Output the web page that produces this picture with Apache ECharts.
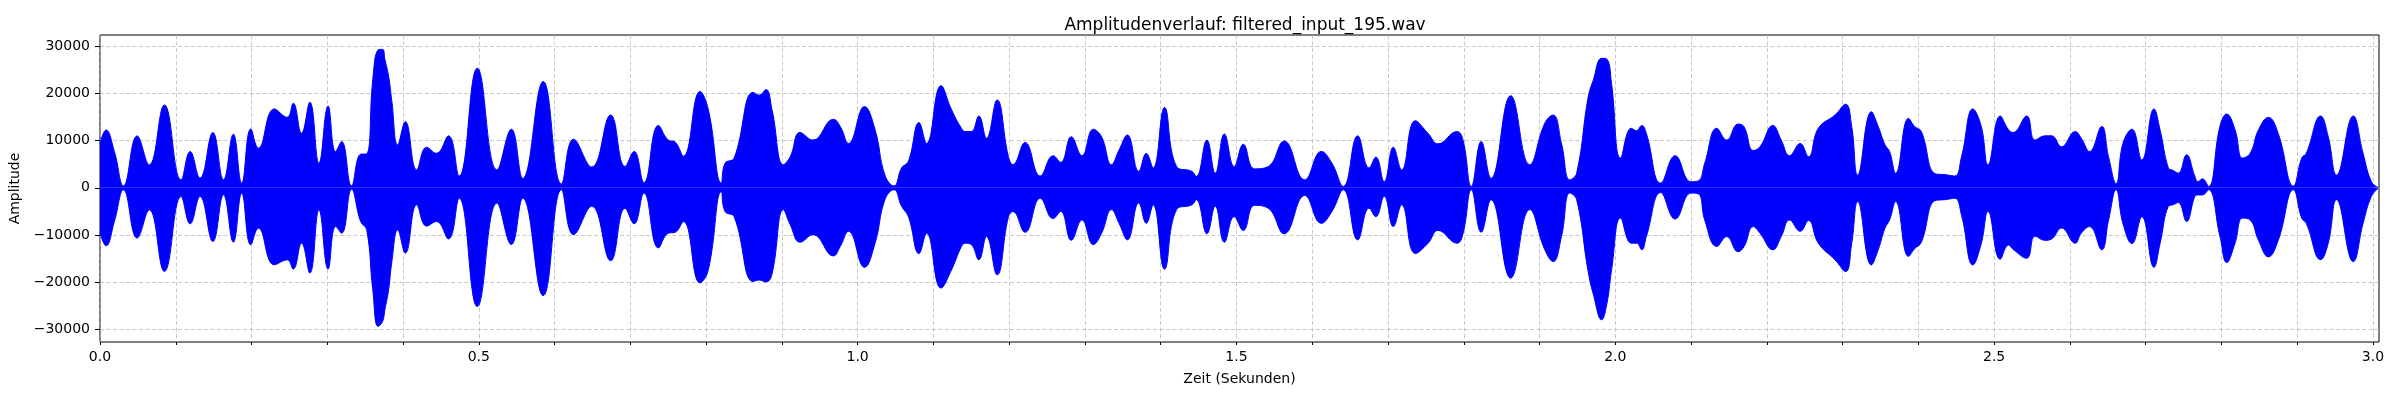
<!DOCTYPE html>
<html>
<head>
<meta charset="utf-8">
<script src="https://cdn.jsdelivr.net/npm/echarts@6/dist/echarts.min.js"></script>
<style>
html, body { margin: 0; padding: 0; background: #fff; }
#chart { width: 2400px; height: 400px; }
</style>
</head>
<body>
<div id="chart"></div>
<script>
// envelope of the waveform (seconds / upper / lower)
var times = [
    0.000, 0.008, 0.019, 0.031, 0.049, 0.065, 0.085, 0.107, 0.119, 0.132,
    0.149, 0.163, 0.176, 0.187, 0.199, 0.209, 0.230, 0.247, 0.255, 0.266,
    0.277, 0.289, 0.301, 0.311, 0.319, 0.332, 0.344, 0.352, 0.360, 0.367,
    0.373, 0.376, 0.381, 0.385, 0.393, 0.403, 0.418, 0.431, 0.444, 0.460,
    0.474, 0.498, 0.524, 0.543, 0.558, 0.585, 0.609, 0.625, 0.649, 0.674,
    0.693, 0.705, 0.718, 0.737, 0.750, 0.759, 0.770, 0.792, 0.803, 0.820,
    0.825, 0.837, 0.862, 0.870, 0.879, 0.887, 0.902, 0.911, 0.924, 0.941,
    0.968, 0.977, 0.988, 1.009, 1.023, 1.036, 1.048, 1.058, 1.067, 1.081,
    1.091, 1.110, 1.124, 1.137, 1.142, 1.150, 1.160, 1.170, 1.184, 1.199,
    1.205, 1.221, 1.241, 1.258, 1.268, 1.282, 1.296, 1.311, 1.322, 1.335,
    1.345, 1.356, 1.371, 1.381, 1.390, 1.405, 1.421, 1.441, 1.447, 1.461,
    1.472, 1.484, 1.497, 1.509, 1.524, 1.542, 1.563, 1.590, 1.612, 1.626,
    1.641, 1.660, 1.675, 1.684, 1.695, 1.707, 1.718, 1.736, 1.753, 1.766,
    1.791, 1.799, 1.810, 1.823, 1.836, 1.862, 1.887, 1.907, 1.918, 1.929,
    1.940, 1.949, 1.964, 1.971, 1.982, 1.989, 1.995, 2.007, 2.021, 2.028,
    2.035, 2.041, 2.060, 2.079, 2.100, 2.110, 2.118, 2.134, 2.147, 2.162,
    2.170, 2.182, 2.191, 2.208, 2.219, 2.230, 2.244, 2.255, 2.268, 2.290,
    2.304, 2.312, 2.320, 2.338, 2.347, 2.356, 2.362, 2.370, 2.387, 2.395,
    2.404, 2.422, 2.435, 2.448, 2.457, 2.472, 2.483, 2.492, 2.508, 2.519,
    2.525, 2.543, 2.554, 2.567, 2.576, 2.589, 2.607, 2.615, 2.626, 2.642,
    2.651, 2.661, 2.670, 2.682, 2.695, 2.711, 2.719, 2.730, 2.736, 2.743,
    2.754, 2.765, 2.769, 2.775, 2.783, 2.798, 2.807, 2.818, 2.828, 2.838,
    2.849, 2.862, 2.875, 2.895, 2.906, 2.912, 2.931, 2.941, 2.952, 2.974,
    2.987, 2.998, 3.007
];
var upper = [
    9440, 12250, 7680, 420, 10990, 4860, 17530, 1690, 7680, 2040,
    11690, 1690, 11340, 990, 12460, 8380, 16690, 14930, 17890, 11550,
    18100, 5210, 17320, 7680, 9790, 420, 7110, 7180, 22820, 29150,
    29290, 27180, 23500, 18600, 9100, 14000, 3800, 8600, 7300, 11000,
    2500, 25300, 3800, 12400, 2000, 22500, 850, 10300, 4400, 15400,
    4500, 7700, 1100, 13200, 10100, 9700, 6700, 20400, 16500, 1000,
    5200, 6300, 20200, 19600, 20800, 16500, 4900, 6600, 11700, 10100,
    14500, 13000, 9400, 17200, 12300, 2700, 400, 4200, 5600, 13800,
    9400, 21600, 16500, 12600, 11900, 11900, 15200, 10500, 18600, 6600,
    4900, 9600, 2500, 6800, 5400, 10800, 6800, 12400, 10800, 4900,
    8000, 11200, 3500, 7300, 4200, 17000, 4500, 3500, 2400, 10100,
    3100, 11400, 4500, 9200, 4000, 4500, 9900, 1700, 7700, 5200,
    300, 11000, 4200, 6500, 1300, 8600, 3800, 14200, 11500, 9300,
    11900, 10100, 300, 9800, 2000, 19500, 4900, 13700, 15400, 9400,
    1700, 3100, 19000, 22800, 27400, 27200, 22100, 6300, 12600, 12100,
    13200, 11500, 1000, 6800, 1300, 1500, 5200, 12600, 10100, 13500,
    12900, 7900, 8700, 13200, 10100, 6800, 9400, 6600, 12600, 15400,
    17700, 13000, 2700, 16100, 13000, 9100, 7700, 3100, 14700, 13000,
    11900, 3000, 2800, 2500, 6600, 16700, 13000, 4900, 15200, 12300,
    11700, 15200, 10100, 11000, 11000, 8700, 11900, 10500, 7700, 13000,
    6600, 900, 9400, 12400, 5900, 16700, 12300, 4200, 3700, 3100,
    7000, 2400, 1300, 1900, 300, 13000, 15600, 12300, 6300, 7300,
    12300, 14900, 11500, 400, 6300, 7300, 15200, 10800, 2700, 15200,
    7300, 1300, 100
];
var lower = [
    -9580, -12250, -7110, -420, -10630, -4650, -17680, -1830, -7610, -1830,
    -11340, -1480, -11480, -1130, -12040, -8520, -16270, -15210, -17180, -11690,
    -18030, -4650, -17180, -8170, -9580, -280, -7110, -8870, -21550, -29290,
    -28240, -25770, -21500, -15900, -8900, -13800, -3600, -8100, -7100, -10800,
    -2200, -25100, -3200, -12000, -2200, -22800, -400, -9900, -3900, -15400,
    -4300, -7600, -1100, -12700, -9600, -9400, -7100, -20100, -17300, -800,
    -5000, -6100, -19800, -19500, -19900, -18200, -4600, -7800, -11500, -9900,
    -14400, -12400, -9200, -16800, -11700, -2500, -400, -3900, -6100, -13900,
    -9600, -21200, -17300, -12400, -11700, -12000, -15200, -10300, -18400, -6100,
    -5000, -9400, -2200, -6500, -5000, -11100, -6800, -12000, -9600, -4600,
    -7500, -11000, -3200, -7500, -3600, -17200, -4600, -3600, -2500, -9700,
    -3900, -11500, -6100, -9000, -3700, -4300, -9700, -1600, -7500, -5000,
    -400, -11000, -4300, -6100, -1800, -8200, -3600, -13900, -11700, -9000,
    -11700, -9700, -400, -9400, -2500, -19100, -4600, -13100, -15600, -10300,
    -1100, -2500, -17500, -22500, -27900, -24400, -17500, -6400, -11700, -11700,
    -13100, -10300, -1000, -6600, -1100, -1300, -6800, -12400, -10300, -13500,
    -12400, -8200, -9600, -13100, -10300, -6800, -9200, -6900, -11700, -15200,
    -17700, -11800, -2900, -16300, -13100, -8500, -6800, -2900, -14500, -12900,
    -11500, -2700, -2500, -2200, -5800, -16300, -11800, -5000, -15100, -12100,
    -13000, -14900, -10200, -11100, -10800, -8500, -11700, -9600, -8200, -13100,
    -6900, -400, -7500, -11800, -6100, -16800, -11800, -3900, -3600, -3100,
    -7100, -1800, -1500, -1500, -400, -10200, -15800, -11700, -6400, -6800,
    -11100, -14600, -11100, -400, -6400, -7500, -15200, -11700, -2500, -15600,
    -7500, -1800, -100
];

// tick positions
var xMajorTicks = [0, 0.5, 1.0, 1.5, 2.0, 2.5, 3.0];
var xMinorTicks = [0, 0.1, 0.2, 0.3, 0.4, 0.5, 0.6, 0.7, 0.8, 0.9, 1.0,
    1.1, 1.2, 1.3, 1.4, 1.5, 1.6, 1.7, 1.8, 1.9, 2.0,
    2.1, 2.2, 2.3, 2.4, 2.5, 2.6, 2.7, 2.8, 2.9, 3.0];
var yTicks = [-30000, -20000, -10000, 0, 10000, 20000, 30000];

var font = 'DejaVu Sans';
var gridLine = { color: '#b0b0b0', opacity: 0.7, width: 1, type: [4, 2.5] };

var chart = echarts.init(document.getElementById('chart'));

var upperData = times.map(function (t, i) { return [t, upper[i]]; });
var lowerData = times.map(function (t, i) { return [t, lower[i]]; });

function bandSeries(name, data) {
    return {
        name: name,
        type: 'line',
        data: data,
        xAxisIndex: 0,
        yAxisIndex: 0,
        symbol: 'none',
        smooth: 0.45,
        animation: false,
        lineStyle: { color: '#0000ff', width: 1 },
        areaStyle: { color: '#0000ff', opacity: 1, origin: 'auto' },
        z: 3
    };
}

var option = {
    animation: false,
    backgroundColor: '#fff',
    title: {
        text: 'Amplitudenverlauf: filtered_input_195.wav',
        left: 1240,
        top: 12,
        textAlign: 'center',
        textStyle: { fontFamily: font, fontSize: 17, fontWeight: 'normal', color: '#000' }
    },
    grid: {
        left: 100, right: 21, top: 35, bottom: 58,
        show: true, borderColor: '#000', borderWidth: 1,
        backgroundColor: 'transparent'
    },
    xAxis: [{
        type: 'value',
        min: 0,
        max: 3.008,
        position: 'bottom',
        name: 'Zeit (Sekunden)',
        nameLocation: 'middle',
        nameGap: 30,
        nameTextStyle: { fontFamily: font, fontSize: 14, color: '#000' },
        axisLine: { show: false },
        axisTick: { show: true, customValues: xMajorTicks, length: 5, lineStyle: { color: '#000' } },
        axisLabel: {
            customValues: xMajorTicks,
            margin: 8,
            fontFamily: font, fontSize: 14, color: '#000',
            formatter: function (v) { return v.toFixed(1); }
        },
        splitLine: { show: false }
    }, {
        type: 'value',
        min: 0,
        max: 3.008,
        position: 'bottom',
        axisLine: { show: false },
        axisTick: { show: true, customValues: xMinorTicks, length: 3, lineStyle: { color: '#000' } },
        axisLabel: { show: false },
        splitLine: { show: true, lineStyle: gridLine }
    }],
    yAxis: {
        type: 'value',
        min: -32600,
        max: 32325,
        name: 'Amplitude',
        nameLocation: 'middle',
        nameGap: 72,
        nameTextStyle: { fontFamily: font, fontSize: 14, color: '#000' },
        axisLine: { show: false },
        axisTick: { show: true, customValues: yTicks, length: 5, lineStyle: { color: '#000' } },
        axisLabel: {
            customValues: yTicks,
            margin: 10,
            fontFamily: font, fontSize: 14, color: '#000',
            formatter: function (v) { return v < 0 ? '\u2212' + (-v) : String(v); }
        },
        splitLine: { show: true, lineStyle: gridLine }
    },
    series: [
        bandSeries('upper', upperData),
        bandSeries('lower', lowerData)
    ]
};

chart.setOption(option);
</script>
</body>
</html>
